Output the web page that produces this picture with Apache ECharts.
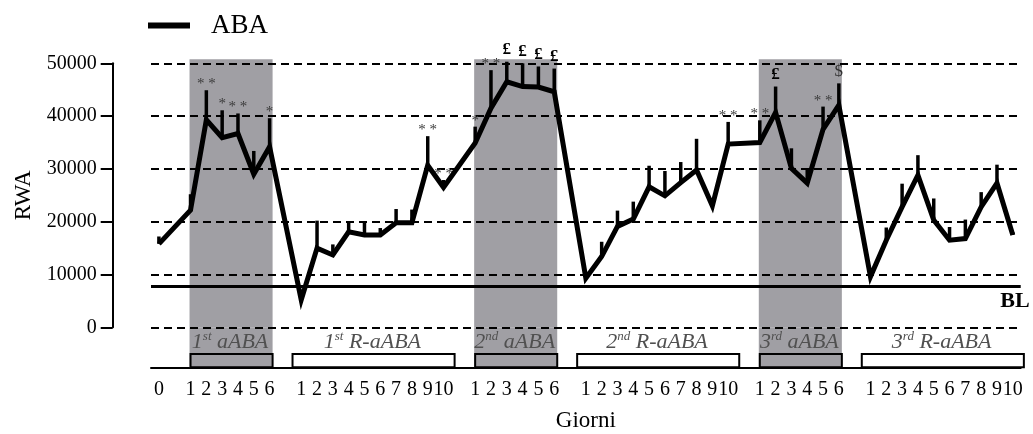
<!DOCTYPE html>
<html><head><meta charset="utf-8">
<script src="https://cdn.jsdelivr.net/npm/echarts@6/dist/echarts.min.js"></script>
<style>html,body{margin:0;padding:0;background:#fff}#c{width:1033px;height:434px}</style>
</head><body><div id="c"></div>
<script>
// x categories (empty strings are the gaps between phases)
const categories = ['0','',
  '1','2','3','4','5','6','',
  '1','2','3','4','5','6','7','8','9','10','',
  '1','2','3','4','5','6','',
  '1','2','3','4','5','6','7','8','9','10','',
  '1','2','3','4','5','6','',
  '1','2','3','4','5','6','7','8','9','10'];
// mean RWA
const ABA = [15800,null,
  22200,39300,35900,36700,29000,34200,null,
  5200,15000,13700,18100,17500,17500,19800,19800,30700,26500,null,
  34900,41500,46500,45600,45500,44600,null,
  9300,13400,19100,20500,26600,24900,27400,29800,23000,34700,null,
  35000,40700,30100,27300,37500,42100,null,
  9600,16500,22800,28800,20300,16500,16800,22800,27300,17500];
// upper error (SE)
const SE = [1400,null,
  3000,5600,5200,3800,4400,5400,null,
  800,5200,2000,1900,2500,1300,2600,2500,5500,1400,null,
  3100,7200,3800,4400,3900,4400,null,
  500,2800,3000,3300,4000,4700,3900,5900,800,4200,null,
  4200,4900,3800,2500,4300,4100,null,
  300,2400,4400,3800,4100,2500,3600,2800,3500,500];
// significance marks
const annotations = ['','',
  '','* *','*','* *','','*','',
  '','','','','','','','','* *','* *','',
  '*','* *','£','£','£','£','',
  '','','','','','','','','','* *','',
  '* *','£','','','* *','$','',
  '','','','','','','','','',''];
const yMin = 0, yMax = 50000, yStep = 10000;
const baselineValue = 7800;
// phases
const segStart = [2, 9, 20, 27, 38, 45];
const segEnd   = [7, 18, 25, 36, 43, 54];
const segOrd   = ['1','1','2','2','3','3'];
const segSup   = ['st','st','nd','nd','rd','rd'];
const segName  = ['aABA','R-aABA','aABA','R-aABA','aABA','R-aABA'];
const segShaded = [true,false,true,false,true,false];

const SERIF = 'Liberation Serif, Times New Roman, serif';
const GREY = '#a09fa4';

const shadedSegs = [];
segStart.forEach((s, k) => { if (segShaded[k]) shadedSegs.push([s, segEnd[k]]); });

function bandRect(params, api, cs) {
  const a = api.coord([api.value(0), 0]);
  const b = api.coord([api.value(1), 0]);
  return {type:'rect', shape:{x:a[0]-1, y:cs.y-4, width:b[0]-a[0]+4, height:cs.height+4},
          style:{fill:GREY}};
}

const errData = [];
ABA.forEach((v, i) => { if (v != null) errData.push([i, v, v + SE[i]]); });

const segData = segStart.map((s, k) => [s, segEnd[k], k]);

const chart = echarts.init(document.getElementById('c'));
chart.setOption({
  animation: false,
  backgroundColor: '#fff',
  legend: {
    data: ['ABA'], left: 143, top: 7, icon: 'rect', itemWidth: 42, itemHeight: 6,
    textStyle: {fontFamily: SERIF, fontSize: 27, color: '#000', padding: [0,0,0,16]}
  },
  grid: [
    {left: 151, right: 12.3, top: 63.3, height: 264},
    {left: 151, right: 12.3, top: 327.3, height: 40}
  ],
  xAxis: [
    {type: 'category', gridIndex: 0, data: categories, show: false, boundaryGap: true},
    {type: 'category', gridIndex: 1, data: categories, boundaryGap: true,
     axisLine: {lineStyle: {color: '#000', width: 2}},
     axisTick: {alignWithLabel: true, length: 9, lineStyle: {color: '#000', width: 2},
                interval: (i, v) => v !== ''},
     axisLabel: {interval: 0, fontFamily: SERIF, fontSize: 20, color: '#000', margin: 12},
     name: 'Giorni', nameLocation: 'middle', nameGap: 42,
     nameTextStyle: {fontFamily: SERIF, fontSize: 23, color: '#000'}}
  ],
  yAxis: [
    {type: 'value', gridIndex: 0, min: yMin, max: yMax, interval: yStep, offset: 38.3, z: 2,
     axisLine: {show: true, lineStyle: {color: '#000', width: 2}},
     axisTick: {show: true, length: 12, lineStyle: {color: '#000', width: 2}},
     axisLabel: {fontFamily: SERIF, fontSize: 20, color: '#000', margin: 16,
                 formatter: v => String(v)},
     splitLine: {show: true, lineStyle: {color: '#000', width: 2, type: [8, 5]}},
     name: 'RWA', nameLocation: 'middle', nameGap: 76,
     nameTextStyle: {fontFamily: SERIF, fontSize: 23, color: '#000'}},
    {type: 'value', gridIndex: 1, min: 0, max: 1, show: false}
  ],
  series: [
    {type: 'custom', xAxisIndex: 0, yAxisIndex: 0, z: 1, silent: true, clip: false,
     data: shadedSegs,
     renderItem: (params, api) => bandRect(params, api, params.coordSys)},
    {type: 'custom', xAxisIndex: 1, yAxisIndex: 1, z: 1, silent: true,
     data: segData,
     renderItem: (params, api) => {
       const cs = params.coordSys;
       const k = api.value(2);
       const a = api.coord([api.value(0), 0]);
       const b = api.coord([api.value(1), 0]);
       const bw = api.size([1, 0])[0];
       const children = [];
       let x0, x1;
       if (segShaded[k]) {
         children.push({type:'rect', shape:{x:a[0]-1, y:cs.y, width:b[0]-a[0]+4, height:cs.height},
                        style:{fill:GREY}});
         x0 = a[0]; x1 = b[0] + 3;
       } else {
         x0 = a[0] - 0.55 * bw; x1 = b[0] + 0.7 * bw;
       }
       children.push({type:'rect', shape:{x:x0, y:cs.y+cs.height*0.67, width:x1-x0, height:cs.height*0.33},
                      style:{fill: segShaded[k] ? GREY : '#fff', stroke:'#000', lineWidth:2}});
       children.push({type:'text', x:(a[0]+b[0])/2, y:cs.y+15,
         style:{text:'{n|' + segOrd[k] + '}{s|' + segSup[k] + '}{n| ' + segName[k] + '}',
                align:'center', verticalAlign:'middle',
                rich:{n:{fontFamily:SERIF, fontStyle:'italic', fontSize:22, lineHeight:24, fill:'#505050'},
                      s:{fontFamily:SERIF, fontStyle:'italic', fontSize:13, lineHeight:24, verticalAlign:'top', fill:'#505050'}}}});
       return {type:'group', children};
     }},
    {type: 'line', name: 'ABA', xAxisIndex: 0, yAxisIndex: 0, z: 3, data: ABA,
     connectNulls: true, symbol: 'none', color: '#000',
     lineStyle: {color: '#000', width: 5, join: 'miter'},
     markLine: {silent: true, symbol: 'none', z: 3,
       lineStyle: {color: '#000', width: 3, type: 'solid'},
       label: {show: true, formatter: 'BL', position: 'insideEndBottom', distance: 4, offset: [13, 0],
               fontFamily: SERIF, fontWeight: 'bold', fontSize: 22, color: '#000'},
       data: [{yAxis: baselineValue}]}},
    {type: 'custom', xAxisIndex: 0, yAxisIndex: 0, z: 3, silent: true, clip: false,
     encode: {x: 0, y: 1},
     data: errData,
     renderItem: (params, api) => {
       const i = api.value(0);
       const p0 = api.coord([i, api.value(1)]);
       const p1 = api.coord([i, api.value(2)]);
       const children = [{type:'line', shape:{x1:p0[0], y1:p0[1], x2:p1[0], y2:p1[1]},
                          style:{stroke:'#000', lineWidth:3.5}}];
       const t = annotations[i];
       if (t) {
         let st;
         if (t === '£') st = {fontFamily:SERIF, fontWeight:'bold', fontSize:17, fill:'#000', dy:-12};
         else if (t === '$') st = {fontFamily:SERIF, fontSize:17, fill:'#333', dy:-12};
         else st = {fontFamily:SERIF, fontSize:15, fill:'#3a3a3a', dy:-6};
         children.push({type:'text', x:p1[0], y:p1[1] + st.dy,
           style:{text:t, align:'center', verticalAlign:'middle', fontFamily:st.fontFamily,
                  fontWeight:st.fontWeight || 'normal', fontSize:st.fontSize, fill:st.fill}});
       }
       return {type:'group', children};
     }}
  ]
});
</script></body></html>
